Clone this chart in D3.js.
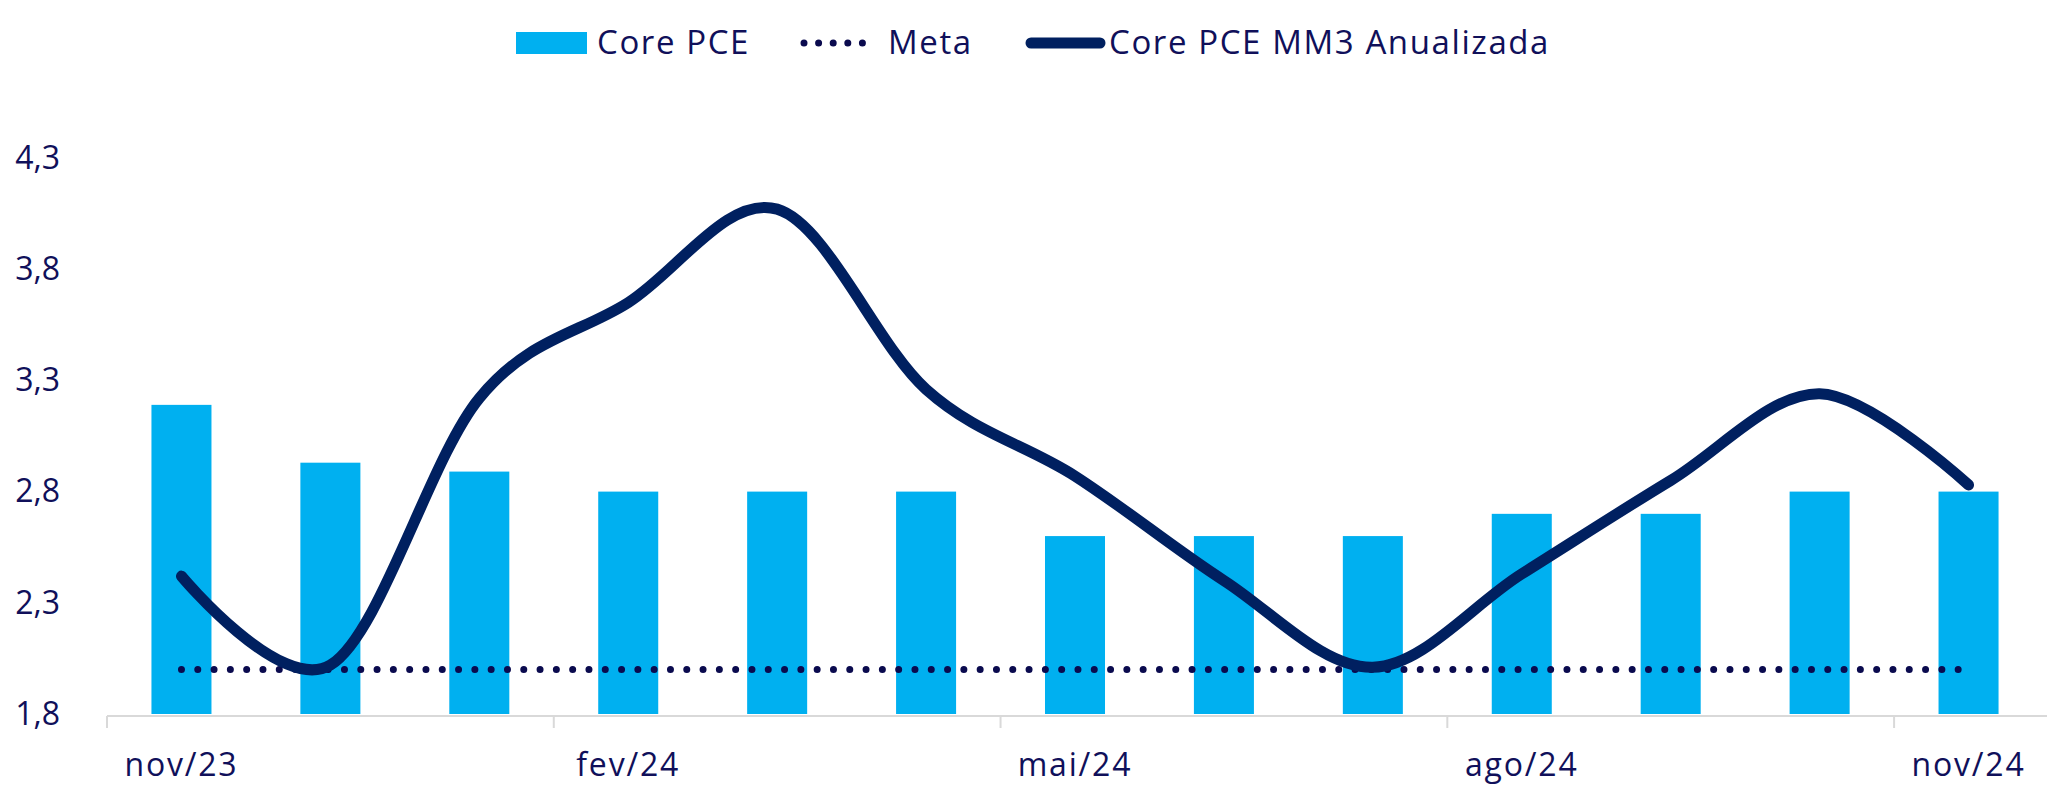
<!DOCTYPE html>
<html>
  <head>
    <meta charset="utf-8">
    <title>Core PCE</title>
    <script type="text/javascript" src="https://d3js.org/d3.v7.min.js"></script>
    <style>
      body { margin: 0; background: #fff; }
      text { font-family: "Open Sans", "Noto Sans", sans-serif; fill: #10105a; }
    </style>
  </head>
  <body>
    <svg width="2050" height="790"></svg>
    <script>
      // dados
      var months = ["nov/23","dez/23","jan/24","fev/24","mar/24","abr/24","mai/24",
                    "jun/24","jul/24","ago/24","set/24","out/24","nov/24"];
      var corePce = [3.19, 2.93, 2.89, 2.8, 2.8, 2.8, 2.6, 2.6, 2.6, 2.7, 2.7, 2.8, 2.8];
      var mm3 = [2.42, 2.02, 3.22, 3.65, 4.07, 3.26, 2.87, 2.40, 2.01, 2.43, 2.85, 3.24, 2.83];
      var meta = [2.0, 2.0, 2.0, 2.0, 2.0, 2.0, 2.0, 2.0, 2.0, 2.0, 2.0, 2.0, 2.0];
      var yTicks = [1.8, 2.3, 2.8, 3.3, 3.8, 4.3];
      var xLabelMonths = ["nov/23","fev/24","mai/24","ago/24","nov/24"];

      var barColor = "#00b0f0";
      var lineColor = "#002060";
      var metaColor = "#0a0a4e";
      var axisColor = "#d9d9d9";

      var svg = d3.select("svg");
      var mLeft = 107, mRight = 2043, mTop = 158, mBottom = 714;

      var x = d3.scaleBand()
        .domain(months)
        .range([mLeft, mRight])
        .paddingInner(0.597)
        .paddingOuter(0.2985);
      var y = d3.scaleLinear()
        .domain([1.8, 4.3])
        .range([mBottom, mTop]);
      var cx = function(m){ return x(m) + x.bandwidth()/2; };

      // barras
      svg.append("g")
        .selectAll("rect")
        .data(corePce)
        .enter()
        .append("rect")
        .attr("x", function(d,i){ return x(months[i]); })
        .attr("y", function(d){ return y(d); })
        .attr("width", x.bandwidth())
        .attr("height", function(d){ return y(1.8) - y(d); })
        .attr("fill", barColor);

      // eixo x
      var fmt = function(v){ return d3.format(".1f")(v).replace(".", ","); };
      svg.append("line")
        .attr("x1", mLeft).attr("x2", 2047)
        .attr("y1", mBottom + 2).attr("y2", mBottom + 2)
        .attr("stroke", axisColor).attr("stroke-width", 2);
      svg.append("g")
        .selectAll("line")
        .data(xLabelMonths)
        .enter()
        .append("line")
        .attr("x1", function(m){ return x(m) - x.step()*x.paddingInner()/2; })
        .attr("x2", function(m){ return x(m) - x.step()*x.paddingInner()/2; })
        .attr("y1", mBottom + 2).attr("y2", mBottom + 14)
        .attr("stroke", axisColor).attr("stroke-width", 2);

      var xAxis = svg.append("g")
        .attr("transform", "translate(0," + (mBottom + 2) + ")")
        .call(d3.axisBottom(x).tickValues(xLabelMonths).tickSize(0).tickPadding(37));
      xAxis.select(".domain").remove();
      xAxis.selectAll("text")
        .style("font-size", "32px")
        .style("letter-spacing", "1.8px")
        .attr("fill", "#10105a");

      // eixo y
      var yAxis = svg.append("g")
        .attr("transform", "translate(60,0)")
        .call(d3.axisLeft(y).tickValues(yTicks).tickFormat(fmt).tickSize(0).tickPadding(0));
      yAxis.select(".domain").remove();
      yAxis.selectAll("text")
        .style("font-size", "32px")
        .attr("fill", "#10105a");

      // meta
      var metaLine = d3.line()
        .x(function(d,i){ return cx(months[i]); })
        .y(function(d){ return y(d); });
      svg.append("path")
        .datum(meta)
        .attr("d", metaLine)
        .attr("fill", "none")
        .attr("stroke", metaColor)
        .attr("stroke-width", 7)
        .attr("stroke-linecap", "round")
        .attr("stroke-dasharray", "0 16.3");

      // MM3 anualizada
      var mmLine = d3.line()
        .x(function(d,i){ return cx(months[i]); })
        .y(function(d){ return y(d); })
        .curve(d3.curveCatmullRom.alpha(0));
      svg.append("path")
        .datum(mm3)
        .attr("d", mmLine)
        .attr("fill", "none")
        .attr("stroke", lineColor)
        .attr("stroke-width", 11)
        .attr("stroke-linecap", "round");

      // legenda
      var leg = svg.append("g");
      leg.append("rect")
        .attr("x", 516).attr("y", 32).attr("width", 71).attr("height", 22)
        .attr("fill", barColor);
      leg.append("text").attr("x", 597).attr("y", 54).text("Core PCE");
      leg.append("line")
        .attr("x1", 804).attr("x2", 877).attr("y1", 43).attr("y2", 43)
        .attr("stroke", metaColor).attr("stroke-width", 7)
        .attr("stroke-linecap", "round").attr("stroke-dasharray", "0 14.6");
      leg.append("text").attr("x", 888).attr("y", 54).text("Meta");
      leg.append("line")
        .attr("x1", 1031).attr("x2", 1100).attr("y1", 43).attr("y2", 43)
        .attr("stroke", lineColor).attr("stroke-width", 11)
        .attr("stroke-linecap", "round");
      leg.append("text").attr("x", 1109).attr("y", 54).text("Core PCE MM3 Anualizada");
      leg.selectAll("text")
        .style("font-size", "33px")
        .style("letter-spacing", "1.6px");
    </script>
  </body>
</html>
